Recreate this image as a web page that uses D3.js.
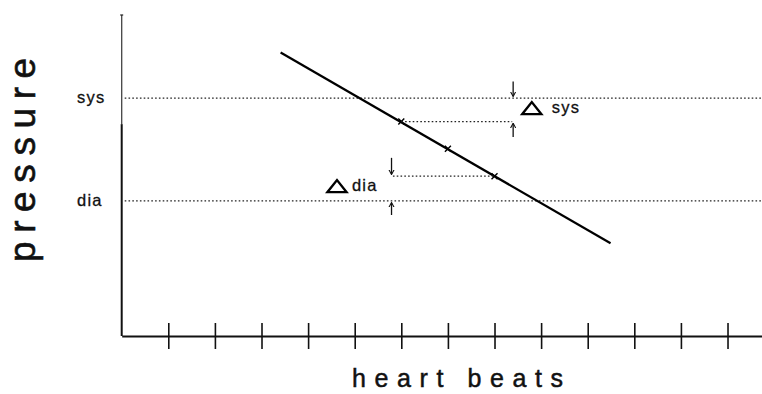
<!DOCTYPE html>
<html><head><meta charset="utf-8">
<script src="https://cdn.jsdelivr.net/npm/d3@7"></script>
<style>
html,body{margin:0;padding:0;background:#fff;}
svg{display:block;}
text{font-family:"Liberation Sans",Arial,sans-serif;fill:#111;}
</style></head>
<body>
<svg id="chart" width="762" height="394"></svg>
<script>
// ---- data ----
const xTicks = [1,2,3,4,5,6,7,8,9,10,11,12,13];
const refLabels = ["sys","dia"];
const refValues = [74.1, 42.1];
const lineX = [3.41, 10.49];
const lineY = [88.3, 28.9];
const markerX = [6, 7, 8];
const markerY = [66.8, 58.3, 49.8];
const deltaLabels = ["sys","dia"];
const deltaFromX = [6, 5.82];
const deltaToX = [8.38, 8];
const deltaLevel = [66.8, 49.8];
const deltaArrowX = [8.4, 5.79];
const deltaArrowOuter = [[79.3, 62.0], [55.5, 37.7]];
const deltaLabelX = [8.80, 4.62];
const deltaLabelY = [71.0, 46.7];
const xTitle = "heart beats";
const yTitle = "pressure";

// ---- scales ----
const svg = d3.select("#chart");
const x = d3.scaleLinear().domain([0, 13.74]).range([121.7, 762]);
const y = d3.scaleLinear().domain([0, 100]).range([336, 15]);

// arrow marker
svg.append("defs").append("marker")
  .attr("id","ah").attr("viewBox","0 0 6 8").attr("refX",5.5).attr("refY",4)
  .attr("markerWidth",4).attr("markerHeight",5).attr("orient","auto")
  .append("path").attr("d","M0,0.8 L6,4 L0,7.2").attr("fill","none").attr("stroke","#111").attr("stroke-width",1.3);

// y axis (scan: lighter upper part, darker lower part)
svg.append("line").attr("x1",x(0)).attr("x2",x(0)).attr("y1",y(100)).attr("y2",y(66))
  .attr("stroke","#444").attr("stroke-width",1.3);
svg.append("line").attr("x1",x(0)).attr("x2",x(0)).attr("y1",y(66)).attr("y2",y(0))
  .attr("stroke","#111").attr("stroke-width",2);
svg.append("line").attr("x1",x(0)-1.5).attr("x2",x(0)+1.5).attr("y1",y(100)).attr("y2",y(100))
  .attr("stroke","#222").attr("stroke-width",1.2);

// x axis
const xAxis = d3.axisBottom(x).tickValues(xTicks).tickSize(13).tickSizeOuter(0).tickFormat("");
const gx = svg.append("g").attr("transform",`translate(0,${y(0)})`).call(xAxis);
gx.select(".domain").attr("stroke","#111").attr("stroke-width",2);
gx.selectAll(".tick line").attr("y1",-13).attr("stroke","#111").attr("stroke-width",1.6);

// reference dotted lines
svg.selectAll(".ref").data(refValues).join("line").attr("class","ref")
  .attr("x1",x(0)+3).attr("x2",x(13.74)).attr("y1",d=>y(d)).attr("y2",d=>y(d))
  .attr("stroke","#222").attr("stroke-width",1.3).attr("stroke-dasharray","1.6,2.2");
svg.selectAll(".refl").data(refLabels).join("text").attr("class","refl")
  .attr("x",77).attr("y",(d,i)=>y(refValues[i])+5)
  .attr("font-size",16.5).attr("letter-spacing",1.2)
  .attr("stroke","#111").attr("stroke-width",0.3).text(d=>d);

// main line
svg.append("path").datum(lineX.map((d,i)=>[d,lineY[i]]))
  .attr("d",d3.line().x(d=>x(d[0])).y(d=>y(d[1])))
  .attr("fill","none").attr("stroke","#000").attr("stroke-width",2.2);

// markers
svg.selectAll(".mk").data(markerX).join("path").attr("class","mk")
  .attr("transform",(d,i)=>`translate(${x(d)},${y(markerY[i])})`)
  .attr("d","M-3,-3L3,3M-3,3L3,-3").attr("stroke","#000").attr("stroke-width",1.4);

// delta dotted segments
svg.selectAll(".dl").data(deltaLevel).join("line").attr("class","dl")
  .attr("x1",(d,i)=>x(deltaFromX[i])).attr("x2",(d,i)=>x(deltaToX[i]))
  .attr("y1",d=>y(d)).attr("y2",d=>y(d))
  .attr("stroke","#222").attr("stroke-width",1.3).attr("stroke-dasharray","1.6,2.2");

// delta arrows
deltaArrowX.forEach((ax,i)=>{
  const upper = i===0 ? refValues[0] : deltaLevel[1];
  const lower = i===0 ? deltaLevel[0] : refValues[1];
  svg.append("line").attr("x1",x(ax)).attr("x2",x(ax))
    .attr("y1",y(deltaArrowOuter[i][0])).attr("y2",y(upper)-2)
    .attr("stroke","#111").attr("stroke-width",1.3).attr("marker-end","url(#ah)");
  svg.append("line").attr("x1",x(ax)).attr("x2",x(ax))
    .attr("y1",y(deltaArrowOuter[i][1])).attr("y2",y(lower)+2)
    .attr("stroke","#111").attr("stroke-width",1.3).attr("marker-end","url(#ah)");
});

// delta labels: triangle + text
deltaLabels.forEach((lab,i)=>{
  const cx = x(deltaLabelX[i]), cy = y(deltaLabelY[i]);
  svg.append("path").attr("d",`M${cx-9.5},${cy+6}L${cx},${cy-6}L${cx+9.5},${cy+6}Z`)
    .attr("fill","none").attr("stroke","#000").attr("stroke-width",2.4).attr("stroke-linejoin","miter");
  svg.append("text").attr("x",cx+ (i===0?20:15)).attr("y",cy+5)
    .attr("font-size",16.5).attr("letter-spacing",1.2)
    .attr("stroke","#111").attr("stroke-width",0.3).text(lab);
});

// axis titles
svg.append("text").attr("x",352).attr("y",387).attr("font-size",25)
  .attr("letter-spacing",8.6).attr("stroke","#111").attr("stroke-width",0.5).text(xTitle);
svg.append("text").attr("transform","translate(35,262) rotate(-90)")
  .attr("font-size",37).attr("letter-spacing",8.6)
  .attr("stroke","#111").attr("stroke-width",0.6).text(yTitle);
</script>
</body></html>
